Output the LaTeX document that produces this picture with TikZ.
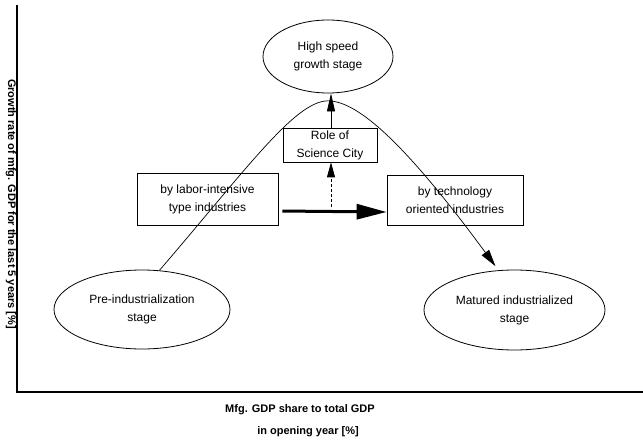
\documentclass[tikz,border=0pt]{standalone}
\usepackage{fontspec}
\setmainfont{Liberation Sans}
\usetikzlibrary{shapes.geometric,arrows.meta}
\begin{document}
\begin{tikzpicture}[x=1pt,y=-1pt,
  every node/.style={font=\fontsize{12}{18}\selectfont, align=center, inner sep=0pt},
  stageell/.style={draw, ellipse, line width=0.8pt},
  factorbox/.style={draw, rectangle, line width=0.7pt},
  axislbl/.style={font=\fontsize{11}{13}\selectfont\bfseries},
  axisline/.style={line width=1.1pt},
  curvearrow/.style={line width=0.7pt, -{Triangle[length=17pt,width=9pt]}},
  uparrow/.style={line width=0.8pt, -{Triangle[length=18pt,width=8pt]}},
  dasharrow/.style={line width=0.8pt, dash pattern=on 3pt off 2pt, -{Triangle[length=15pt,width=8pt]}},
  bigarrow/.style={line width=3pt, -{Triangle[length=30pt,width=15pt]}}
]
\useasboundingbox (0,0) rectangle (643,444);
% axes
\coordinate (origin) at (17,392);
\coordinate (ytop) at (17,5);
\coordinate (xend) at (643,392);
\draw[axisline] (ytop) -- (origin) -- (xend);
\node[axislbl, rotate=-90] (ylbl) at (11,204) {Growth rate of mfg. GDP for the last 5 years [\%]};
\node[axislbl] (xlbl1) at (300,410) {Mfg. GDP share to total GDP};
\node[axislbl] (xlbl2) at (308,432) {in opening year [\%]};
% stages
\node[stageell, minimum width=130, minimum height=73] (high) at (328,56.5) {High speed\\growth stage};
\node[stageell, minimum width=176, minimum height=79] (pre) at (142,309.5) {Pre-industrialization\\stage};
\node[stageell, minimum width=181, minimum height=80] (mat) at (514.5,310) {Matured industrialized\\stage};
% boxes
\node[factorbox, minimum width=94, minimum height=34] (role) at (330,145) {Role of\\Science City};
\node[factorbox, minimum width=141, minimum height=52] (labor) at (207.5,199) {by labor-intensive\\type industries};
\node[factorbox, minimum width=136, minimum height=50] (tech) at (455,200) {by technology\\oriented industries};
% curve
\coordinate (peak) at (331,101);
\draw[curvearrow, shorten >=5pt] (pre.66) .. controls (250,165) and (298,97) .. (peak)
  .. controls (362,104) and (410,150) .. (mat.112);
% arrows
\draw[bigarrow, shorten <=4pt] ([yshift=-12]labor.east) -- ([yshift=-12]tech.west);
\coordinate (dashstart) at (331,207);
\draw[dasharrow] (dashstart) -- (role.south -| dashstart);
\draw[uparrow] (role.north -| dashstart) -- (high.south -| dashstart);
\end{tikzpicture}
\end{document}
